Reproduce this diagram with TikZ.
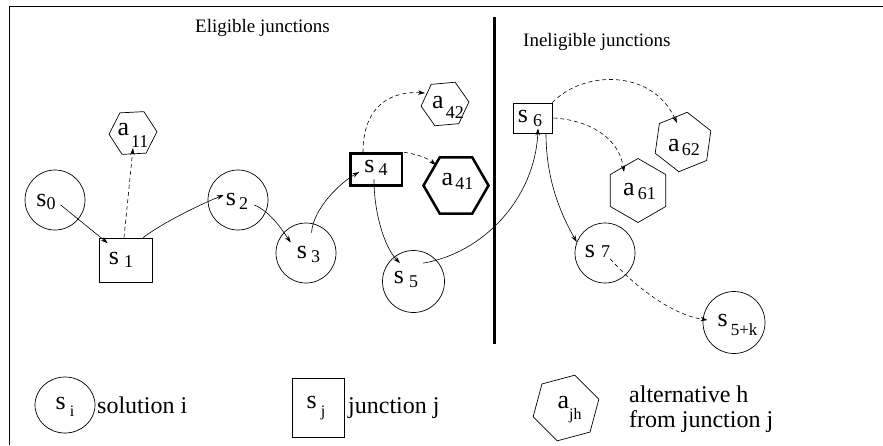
\documentclass[tikz,border=0pt]{standalone}
\usepackage{graphicx}
\usepackage{fontspec}
\setmainfont{Liberation Serif}
\usetikzlibrary{shapes.geometric,arrows.meta}
% text at 18pt scaled up (larger sizes fall back to another face)
\newcommand{\bigtxt}[2]{\scalebox{#1}{\fontsize{18}{18}\selectfont #2}}
% main letter, subscript, gap, lowering, subscript size
\newcommand{\mylab}[5]{\bigtxt{1.444}{#1}\hspace{#3}\raisebox{-#4}{\fontsize{#5}{#5}\selectfont #2}}
\begin{document}
\begin{tikzpicture}[x=1pt,y=-1pt,
  sol/.style={circle,draw,line width=0.7pt,minimum size=60pt,inner sep=0pt},
  junc/.style={rectangle,draw,line width=0.7pt,inner sep=0pt},
  alt/.style={regular polygon,regular polygon sides=6,draw,line width=0.7pt,inner sep=0pt},
  lab/.style={inner sep=1pt},
  arr/.style={line width=0.6pt,-{Stealth[length=7pt,width=4.5pt]}},
  dsh/.style={arr,dash pattern=on 4pt off 3pt},
  hdr/.style={font=\fontsize{19}{19}\selectfont,inner sep=0pt,anchor=base west},
  leg/.style={inner sep=0pt,anchor=base west}]
\useasboundingbox (0,0) rectangle (883,445);
% frame
\draw[line width=1pt] (9,445) -- (9,6) -- (883,6);
% separator
\draw[line width=3pt] (494,17) -- (494,344);
% headers
\node[hdr] (h1) at (195,32) {Eligible junctions};
\node[hdr] (h2) at (523,46) {Ineligible junctions};
% shapes
\node[sol] (s0) at (55,200) {};
\node[junc,minimum width=53pt,minimum height=44pt] (s1) at (125.5,260) {};
\node[alt,minimum size=48pt,shape border rotate=3] (a11) at (133,133) {};
\node[sol] (s2) at (238,200) {};
\node[sol] (s3) at (306,253) {};
\node[junc,line width=2.5pt,minimum width=51.5pt,minimum height=32pt] (s4) at (376,169.5) {};
\node[alt,minimum size=48pt,shape border rotate=5] (a42) at (445,104) {};
\node[alt,line width=2.5pt,minimum size=65pt] (a41) at (456,185.5) {};
\node[sol,minimum size=62pt] (s5) at (413.5,281.5) {};
\node[junc,minimum width=39pt,minimum height=30pt] (s6) at (532.5,118) {};
\node[alt,minimum size=60pt,shape border rotate=22] (a62) at (683,142) {};
\node[alt,minimum size=64pt,shape border rotate=30] (a61) at (638,190.5) {};
\node[sol] (s7) at (605,253) {};
\node[sol,minimum size=62pt] (s5k) at (734,322.5) {};
% labels
\node[lab] (s0l) at (46,201.5) {\mylab{s}{0}{0pt}{3pt}{18}};
\node[lab] (s1l) at (121,260) {\mylab{s}{1}{5pt}{3pt}{18}};
\node[lab] (s2l) at (237,201.5) {\mylab{s}{2}{3pt}{4pt}{18}};
\node[lab] (s3l) at (308.5,254) {\mylab{s}{3}{4pt}{4pt}{18}};
\node[lab] (s4l) at (376,167.5) {\mylab{s}{4}{4pt}{3pt}{18}};
\node[lab] (s5l) at (406,279) {\mylab{s}{5}{5pt}{4pt}{18}};
\node[lab] (s6l) at (530,118) {\mylab{s}{6}{5pt}{4pt}{18}};
\node[lab] (s7l) at (597.5,251.5) {\mylab{s}{7}{6pt}{0pt}{18}};
\node[lab] (s5kl) at (737.5,325) {\mylab{s}{5+k}{3pt}{9pt}{17}};
\node[lab] (a11l) at (133,135.5) {\mylab{a}{11}{2pt}{12pt}{18}};
\node[lab] (a42l) at (448,107) {\mylab{a}{42}{2pt}{10pt}{18}};
\node[lab] (a41l) at (457.5,181) {\mylab{a}{41}{2pt}{4pt}{18}};
\node[lab] (a61l) at (639.5,191) {\mylab{a}{61}{3pt}{4pt}{18}};
\node[lab] (a62l) at (684,147) {\mylab{a}{62}{2pt}{4pt}{18}};
% connectors
\draw[arr] ([shift={(4,3.5)}]s0l.east) -- ([shift={(0,-8)}]s1l.north west);
\draw[dsh] ([shift={(-1.5,0)}]s1.north) -- ([shift={(0,15)}]a11.center);
\draw[arr] ([shift={(17.5,0)}]s1.north) .. controls +(20,-15) and +(-25,10) .. ([shift={(-1,-6.5)}]s2l.west);
\draw[arr] ([shift={(5,3.5)}]s2l.east) .. controls +(15,6) and +(-10,-15) .. ([shift={(-5,-2)}]s3l.north west);
\draw[arr] ([shift={(3,-12)}]s3l.north) .. controls +(2,-25) and +(-18,10) .. ([shift={(-4,4.5)}]s4l.west);
\draw[dsh] ([shift={(-13,0)}]s4.north) .. controls +(0,-50) and +(-30,-2) .. ([shift={(-20,-11)}]a42.center);
\draw[dsh] ([shift={(1,0)}]s4.north east) .. controls +(12,2) and +(-10,-8) .. ([shift={(-20,-20.5)}]a41.center);
\draw[arr] ([shift={(-2,3)}]s4l.south) .. controls +(0,35) and +(-15,-15) .. ([shift={(-6,-6.5)}]s5l.north);
\draw[arr] ([shift={(4,-6.5)}]s5l.north east) .. controls +(60,-10) and +(-3,70) .. ([shift={(8,1)}]s6l.south);
\draw[dsh] (s6.north east) .. controls +(30,-32) and +(-25,-55) .. ([shift={(-6,-19)}]a62.center);
\draw[dsh] ([shift={(1,0)}]s6.east) .. controls +(35,2) and +(-5,-35) .. ([shift={(-14,-18.5)}]a61.center);
\draw[arr] ([shift={(13.5,0)}]s6.south) .. controls +(0,40) and +(-20,-35) .. ([shift={(-7,-2)}]s7l.north west);
\draw[dsh] ([shift={(-1,0)}]s7l.south east) .. controls +(25,28) and +(-35,-5) .. ([shift={(-9,-5)}]s5kl.west);
% legend
\node[ellipse,draw,line width=0.7pt,minimum width=60pt,minimum height=56pt,inner sep=0pt] (ls) at (65,405) {};
\node[lab] (lsl) at (65,407) {\mylab{s}{i}{4pt}{7pt}{16}};
\node[leg] (t1) at (97,413) {\bigtxt{1.333}{solution i}};
\node[junc,minimum width=52pt,minimum height=59pt] (lj) at (318,407.5) {};
\node[lab] (ljl) at (316,408.5) {\mylab{s}{j}{4pt}{8pt}{16}};
\node[leg] (t2) at (348,413) {\bigtxt{1.333}{junction j}};
\node[alt,minimum size=68pt,shape border rotate=15] (la) at (566,408) {};
\node[lab] (lal) at (569.5,410) {\mylab{a}{jh}{0pt}{11pt}{16}};
\node[leg] (t3) at (629,402) {\bigtxt{1.333}{alternative h}};
\node[leg] (t4) at (629,427) {\bigtxt{1.333}{from junction j}};
\end{tikzpicture}
\end{document}
